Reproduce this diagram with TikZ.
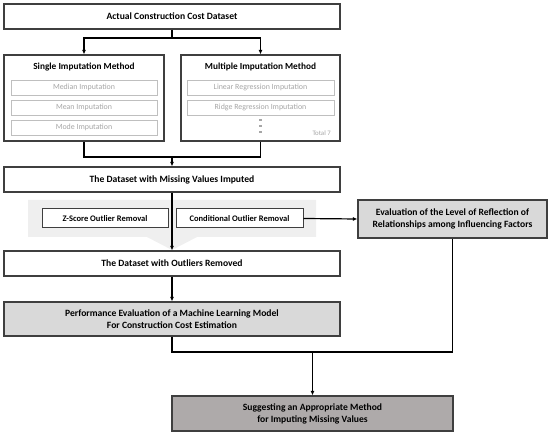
\documentclass[tikz,border=0pt]{standalone}
\usepackage{fontspec}
\setmainfont{Carlito}
\usetikzlibrary{arrows.meta}
\definecolor{edgegrey}{HTML}{3F3F3F}
\definecolor{innergrey}{HTML}{BFBFBF}
\definecolor{innertext}{HTML}{A6A6A6}
\definecolor{lightfill}{HTML}{D9D9D9}
\definecolor{darkfill}{HTML}{AEAAAA}
\definecolor{bandfill}{HTML}{EFEFEF}
\tikzset{
  box/.style={draw=edgegrey, line width=1.2pt, fill=white, rectangle, inner sep=0pt,
    font=\fontsize{9.6}{12}\selectfont\bfseries, align=center},
  inner/.style={draw=innergrey, line width=0.8pt, fill=white, rectangle, inner sep=0pt,
    font=\fontsize{7.9}{9}\selectfont, text=innertext},
  title/.style={font=\fontsize{9.3}{10}\selectfont\bfseries, inner sep=0pt},
  smallbox/.style={box, line width=1pt, minimum height=19pt, font=\fontsize{8.5}{9}\selectfont\bfseries},
  conn/.style={draw=black, line width=1.2pt},
  arr/.style={conn, -{Latex[length=4.5pt,width=4pt]}},
  dotmark/.style={rectangle, fill=innertext, inner sep=0pt, minimum size=2.8pt}
}
\begin{document}
\begin{tikzpicture}[x=1pt,y=-1pt]
\useasboundingbox (0,0) rectangle (550,435);
% band
\fill[bandfill] (28,200) -- (316,200) -- (316,237) -- (197,237) -- (172,250) -- (147,237) -- (28,237) -- cycle;
% top
\node[box, minimum width=336pt, minimum height=25pt] (top) at (172,16.5) {Actual Construction Cost Dataset};
% single
\node[box, minimum width=160pt, minimum height=86pt] (single) at (84,98) {};
\node[title] (singlet) at (84,67) {Single Imputation Method};
\node[inner, minimum width=146pt, minimum height=15pt] (median) at (84,87.5) {Median Imputation};
\node[inner, minimum width=146pt, minimum height=15pt] (mean) at (84,107.5) {Mean Imputation};
\node[inner, minimum width=146pt, minimum height=15pt] (mode) at (84,127.5) {Mode Imputation};
% multiple
\node[box, minimum width=159pt, minimum height=86pt] (multi) at (260.5,98) {};
\node[title] (multit) at (260.5,67) {Multiple Imputation Method};
\node[inner, minimum width=147pt, minimum height=15pt] (linear) at (260.5,87.5) {Linear Regression Imputation};
\node[inner, minimum width=147pt, minimum height=15pt] (ridge) at (260.5,107.5) {Ridge Regression Imputation};
\node[dotmark] (d1) at (260.5,120) {};
\node[dotmark] (d2) at (260.5,126) {};
\node[dotmark] (d3) at (260.5,132) {};
\node[anchor=east, inner sep=0pt, font=\fontsize{6.8}{8}\selectfont, text=innertext] (total) at (331,133) {Total 7};
% connectors top
\coordinate (j0) at (172,38);
\draw[conn] (top.south) -- (j0);
\draw[arr] (j0) -| (single.north);
\draw[arr] (j0) -| (multi.north);
% imputed
\node[box, minimum width=336pt, minimum height=25pt] (imputed) at (172,179.5) {The Dataset with Missing Values Imputed};
\coordinate (j1) at (172,157);
\draw[conn] (single.south) |- (j1);
\draw[conn] (multi.south) |- (j1);
\draw[arr] (j1) -- (imputed.north);
% outlier boxes
\node[smallbox, minimum width=126pt] (zscore) at (105,218.5) {Z-Score Outlier Removal};
\node[smallbox, minimum width=127pt] (cond) at (239.5,218.5) {Conditional Outlier Removal};
% removed
\node[box, minimum width=336pt, minimum height=25pt] (removed) at (172,263.5) {The Dataset with Outliers Removed};
\draw[arr] (imputed.south) -- (removed.north);
% evaluation
\node[box, fill=lightfill, minimum width=189pt, minimum height=38pt] (eval) at (452.5,219) {Evaluation of the Level of Reflection of\\Relationships among Influencing Factors};
\draw[arr] (cond.east) -- (eval.west);
% performance
\node[box, fill=lightfill, minimum width=336pt, minimum height=34pt] (perf) at (172,319) {Performance Evaluation of a Machine Learning Model\\For Construction Cost Estimation};
\draw[arr] (removed.south) -- (perf.north);
% suggest
\node[box, fill=darkfill, minimum width=281pt, minimum height=35pt] (suggest) at (312.5,413.5) {Suggesting an Appropriate Method\\for Imputing Missing Values};
\coordinate (j2) at (312.5,352);
\draw[conn] (perf.south) |- (j2);
\draw[conn] (eval.south) |- (j2);
\draw[arr] (j2) -- (suggest.north);
\end{tikzpicture}
\end{document}
